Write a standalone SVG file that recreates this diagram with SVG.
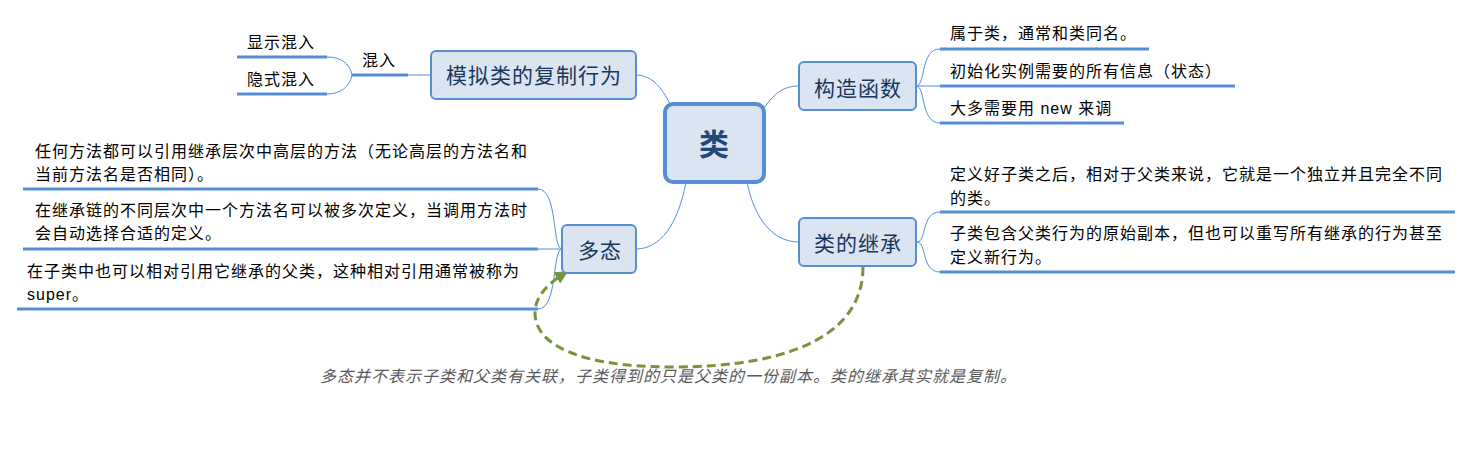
<svg xmlns="http://www.w3.org/2000/svg" width="1473" height="451" viewBox="0 0 1473 451">
<style>
.t{font-family:'Liberation Sans','Noto Sans CJK SC',sans-serif;font-size:16px;letter-spacing:1px;fill:#000}
.n{font-family:'Liberation Sans','Noto Sans CJK SC',sans-serif;font-size:21px;letter-spacing:1px;fill:#17375e;text-anchor:middle}
.box{fill:#dbe5f1;stroke:#558ed5;stroke-width:2}
.ul{stroke:#558ed5;stroke-width:3;fill:none}
.c{stroke:#558ed5;stroke-width:1;fill:none}
.note{font-family:'Liberation Sans','Noto Sans CJK SC',sans-serif;font-size:16px;letter-spacing:1px;fill:#595959;font-style:italic}
</style>
<defs>
<marker id="ah" viewBox="0 0 10 10" markerWidth="14" markerHeight="13" refX="9" refY="5" orient="auto" markerUnits="userSpaceOnUse">
<path d="M0,0 L10,5 L0,10 z" fill="#77933c"/>
</marker>
</defs>
<rect width="1473" height="451" fill="#fff"/>
<g id="connectors">
<path class="c" d="M636,75 C652,75 662,88 670,104"/>
<path class="c" d="M764,108 C775,92 785,86 799,86"/>
<path class="c" d="M747,182 C755,222 775,242 799,242"/>
<path class="c" d="M686,182 C678,225 660,249 636,249"/>
<path class="c" d="M431,75 L408,75"/>
<path class="c" d="M352,75 C350,63 340,57 327,57"/>
<path class="c" d="M352,75 C350,87 340,94 327,94"/>
<path class="c" d="M916,86 C926,86 920,49 940,49"/>
<path class="c" d="M916,86 L940,86"/>
<path class="c" d="M916,86 C926,86 920,123 940,123"/>
<path class="c" d="M917,242 C927,242 921,212 940,212"/>
<path class="c" d="M917,242 C927,242 921,272 940,272"/>
<path class="c" d="M562,249 L538,249"/>
<path class="c" d="M562,249 C552,249 558,189 538,189"/>
<path class="c" d="M562,249 C552,249 558,309 538,309"/>
<path d="M863,267 C863,330 800,367 672,367 C580,367 535,345 535,313 C535,295 550,282 567,272" fill="none" stroke="#77933c" stroke-width="3" stroke-dasharray="9 5" marker-end="url(#ah)"/>
</g>
<g id="node-center">
<rect x="665" y="104" width="99" height="78" rx="8" fill="#dbe5f1" stroke="#558ed5" stroke-width="4"/>
<text x="714" y="155" font-family="'Liberation Sans','Noto Sans CJK SC',sans-serif" font-size="30" font-weight="bold" fill="#1f497d" text-anchor="middle">类</text>
</g>
<g id="node-copy">
<rect class="box" x="431" y="51" width="205" height="48" rx="5"/>
<text class="n" x="534" y="83">模拟类的复制行为</text>
</g>
<g id="node-mixin">
<line class="ul" x1="352" y1="75" x2="408" y2="75"/>
<text class="t" x="362" y="66">混入</text>
</g>
<g id="node-explicit">
<line class="ul" x1="237" y1="57" x2="327" y2="57"/>
<text class="t" x="247" y="48">显示混入</text>
</g>
<g id="node-implicit">
<line class="ul" x1="237" y1="94" x2="327" y2="94"/>
<text class="t" x="247" y="85">隐式混入</text>
</g>
<g id="node-ctor">
<rect class="box" x="799" y="62" width="117" height="48" rx="5"/>
<text class="n" x="858" y="96">构造函数</text>
</g>
<g id="node-ctor-1">
<line class="ul" x1="940" y1="49" x2="1149" y2="49"/>
<text class="t" x="950" y="39">属于类，通常和类同名。</text>
</g>
<g id="node-ctor-2">
<line class="ul" x1="940" y1="86" x2="1235" y2="86"/>
<text class="t" x="950" y="77">初始化实例需要的所有信息（状态）</text>
</g>
<g id="node-ctor-3">
<line class="ul" x1="940" y1="123" x2="1124" y2="123"/>
<text class="t" x="950" y="114">大多需要用 new 来调</text>
</g>
<g id="node-inherit">
<rect class="box" x="799" y="218" width="117" height="48" rx="5"/>
<text class="n" x="858" y="251">类的继承</text>
</g>
<g id="node-inherit-1">
<line class="ul" x1="940" y1="212" x2="1455" y2="212"/>
<text class="t" x="950" y="180">定义好子类之后，相对于父类来说，它就是一个独立并且完全不同</text>
<text class="t" x="950" y="204">的类。</text>
</g>
<g id="node-inherit-2">
<line class="ul" x1="940" y1="272" x2="1455" y2="272"/>
<text class="t" x="950" y="239">子类包含父类行为的原始副本，但也可以重写所有继承的行为甚至</text>
<text class="t" x="950" y="263">定义新行为。</text>
</g>
<g id="node-poly">
<rect class="box" x="562" y="225" width="74" height="48" rx="5"/>
<text class="n" x="600" y="258">多态</text>
</g>
<g id="node-poly-1">
<line class="ul" x1="23" y1="189" x2="538" y2="189"/>
<text class="t" x="35" y="157">任何方法都可以引用继承层次中高层的方法（无论高层的方法名和</text>
<text class="t" x="35" y="180">当前方法名是否相同）。</text>
</g>
<g id="node-poly-2">
<line class="ul" x1="23" y1="249" x2="538" y2="249"/>
<text class="t" x="35" y="216">在继承链的不同层次中一个方法名可以被多次定义，当调用方法时</text>
<text class="t" x="35" y="239">会自动选择合适的定义。</text>
</g>
<g id="node-poly-3">
<line class="ul" x1="17" y1="309" x2="538" y2="309"/>
<text class="t" x="27" y="277">在子类中也可以相对引用它继承的父类，这种相对引用通常被称为</text>
<text class="t" x="27" y="300">super。</text>
</g>
<g id="note">
<text class="note" x="320" y="382">多态并不表示子类和父类有关联，子类得到的只是父类的一份副本。类的继承其实就是复制。</text>
</g>
</svg>
